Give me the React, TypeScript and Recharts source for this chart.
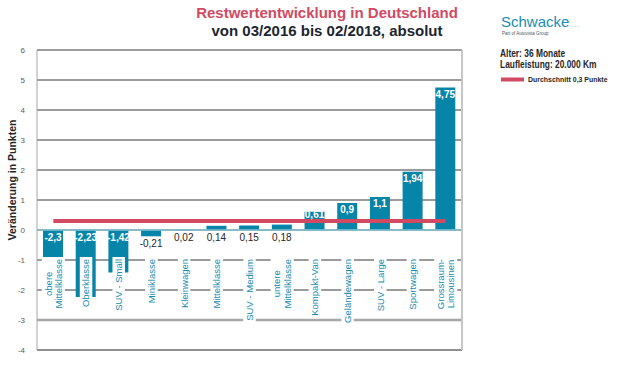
import { ComposedChart, Bar, Line, XAxis, YAxis, ReferenceLine, CartesianGrid, LabelList } from 'recharts'

const categories = [
  'obere\nMittelklasse',
  'Oberklasse',
  'SUV - Small',
  'Miniklasse',
  'Kleinwagen',
  'Mittelklasse',
  'SUV - Medium',
  'untere\nMittelklasse',
  'Kompakt-Van',
  'Geländewagen',
  'SUV - Large',
  'Sportwagen',
  'Grossraum-\nLimousinen',
]
const changes = [-2.3, -2.23, -1.42, -0.21, 0.02, 0.14, 0.15, 0.18, 0.61, 0.9, 1.1, 1.94, 4.75]
const average = 0.3
const yTicks = [-4, -3, -2, -1, 0, 1, 2, 3, 4, 5, 6]

const data = categories.map((name, i) => ({ name, value: changes[i], avg: average }))

const FONT = "'Liberation Sans', Arial, sans-serif"
const TEAL = '#0785a9'
const RED = '#d14a61'

const measureCtx = typeof document !== 'undefined' ? document.createElement('canvas').getContext('2d') : null
function textWidth(s: string, font: string) {
  if (!measureCtx) return s.length * 5
  measureCtx.font = font
  return measureCtx.measureText(s).width
}

// a few gridlines are drawn differently from the plain grid
function gridStyle(v: number) {
  if (v === 0) return { stroke: '#86c4d6', strokeWidth: 1.5 }
  if (v === -3) return { stroke: '#a8a8a8', strokeWidth: 2.5 }
  if (v === -4) return { stroke: '#8c8c8c', strokeWidth: 1.5 }
  return { stroke: '#9c9c9c', strokeWidth: 1.5 }
}
const specialLines = [6, 0, -3, -4]

// category names sit inside the plot, top end just below the -1 line, on a white box
const CategoryTick = ({ x, y, payload }: any) => {
  const lines = String(payload.value).split('\n')
  const size = 9.5
  const lh = 10.5
  const maxW = Math.max(...lines.map((l) => textWidth(l, `${size}px ${FONT}`)))
  const blockH = lines.length * lh
  const top = y - 91
  return (
    <g transform={`translate(${x},${top}) rotate(-90)`}>
      <rect x={-maxW - 2} y={-blockH / 2 - 1} width={maxW + 4} height={blockH + 2} fill="#fff" />
      {lines.map((l, i) => (
        <text
          key={i}
          x={-maxW / 2}
          y={-blockH / 2 + lh * (i + 0.5) + 3.4}
          textAnchor="middle"
          fontSize={size}
          fontFamily={FONT}
          fill="#178bb0"
        >
          {l}
        </text>
      ))}
    </g>
  )
}

const ValueLabel = (props: any) => {
  const { x, y, width, height, value } = props
  const top = Math.min(y, y + height)
  const bottom = Math.max(y, y + height)
  const cx = x + width / 2
  const text = String(value).replace('.', ',')
  let ty = bottom + 11
  let inside = false
  if (value >= 0.5) {
    ty = Math.min(top + 10, bottom - 12)
    inside = true
  } else if (value <= -1) {
    ty = top + 11
    inside = true
  }
  return (
    <text
      x={cx}
      y={ty}
      textAnchor="middle"
      fontSize={10}
      fontFamily={FONT}
      fontWeight={inside ? 'bold' : 'normal'}
      fill={inside ? '#fff' : '#262626'}
    >
      {text}
    </text>
  )
}

export default function App() {
  return (
    <div style={{ position: 'absolute', left: 0, top: 0, width: 620, height: 385, background: '#fff' }}>
      <ComposedChart width={620} height={385} data={data} margin={{ top: 50, right: 0, bottom: 0, left: 0 }}>
        <CartesianGrid yAxisId="left" vertical={false} stroke="#7a7a7a" strokeWidth={1.3} />
        <XAxis
          dataKey="name"
          height={35}
          axisLine={false}
          tickLine={false}
          tickSize={0}
          tickMargin={0}
          interval={0}
          tick={<CategoryTick />}
        />
        <YAxis
          yAxisId="left"
          width={37}
          domain={[-4, 6]}
          ticks={yTicks}
          interval={0}
          axisLine={{ stroke: '#a6a6a6' }}
          tickLine={false}
          tickSize={0}
          tickMargin={12}
          tick={{ fontSize: 8, fill: '#595959', fontFamily: FONT }}
        />
        <YAxis
          yAxisId="right"
          orientation="right"
          width={158}
          domain={[-4, 6]}
          ticks={yTicks}
          interval={0}
          axisLine={{ stroke: '#c6c6c6', strokeWidth: 2 }}
          tickLine={{ stroke: '#9a9a9a' }}
          tickSize={5}
          tickMargin={3}
          tick={{ fontSize: 8, fill: '#595959', fontFamily: FONT, textAnchor: 'start' }}
        />
        {specialLines.map((v) => (
          <ReferenceLine key={v} yAxisId="left" y={v} {...gridStyle(v)} />
        ))}
        <Bar yAxisId="left" dataKey="value" fill={TEAL} barSize={20} isAnimationActive={false}>
          <LabelList dataKey="value" content={<ValueLabel />} />
        </Bar>
        <Line
          yAxisId="left"
          dataKey="avg"
          stroke={RED}
          strokeWidth={4}
          dot={false}
          activeDot={false}
          isAnimationActive={false}
        />
      </ComposedChart>
      <svg
        width={620}
        height={385}
        style={{ position: 'absolute', left: 0, top: 0, pointerEvents: 'none' }}
        fontFamily={FONT}
      >
        <text x={327} y={18} textAnchor="middle" fontSize={15} fontWeight="bold" fill={RED}>
          Restwertentwicklung in Deutschland
        </text>
        <text x={327} y={36} textAnchor="middle" fontSize={15} fontWeight="bold" fill="#1b2630">
          von 03/2016 bis 02/2018, absolut
        </text>
        <text x={501} y={27} fontSize={15} fill="#1a8db3">
          Schwacke
        </text>
        <text x={569} y={27} fontSize={8} fill="#7fbfd6" letterSpacing={0.5}>
          ....
        </text>
        <text x={502} y={35} fontSize={4.5} fill="#555">
          Part of Autovista Group
        </text>
        <text transform="translate(500,57) scale(0.8,1)" fontSize={10.5} fontWeight="bold" fill="#262626">
          Alter: 36 Monate
        </text>
        <text transform="translate(500,68) scale(0.8,1)" fontSize={10.5} fontWeight="bold" fill="#262626">
          Laufleistung: 20.000 Km
        </text>
        <rect x={501} y={77.5} width={23} height={4} fill={RED} />
        <text transform="translate(528,82) scale(0.87,1)" fontSize={8} fontWeight="bold" fill="#262626">
          Durchschnitt 0,3 Punkte
        </text>
        <text
          transform="translate(16,180) rotate(-90)"
          textAnchor="middle"
          fontSize={10.5}
          fontWeight="bold"
          fill="#262626"
        >
          Veränderung in Punkten
        </text>
      </svg>
    </div>
  )
}
